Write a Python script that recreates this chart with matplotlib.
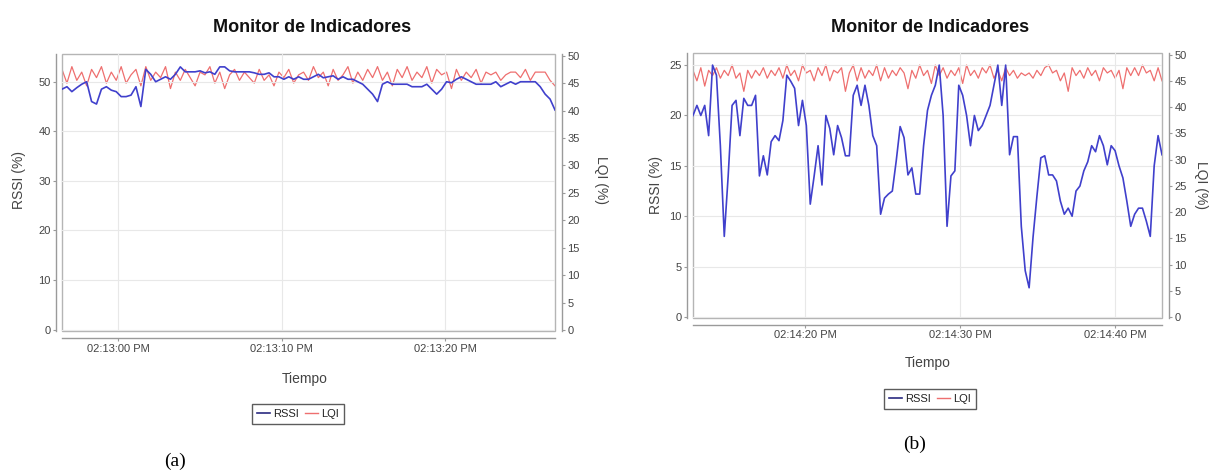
import matplotlib
matplotlib.use("Agg")
import matplotlib.pyplot as plt
import matplotlib.dates as mdates
from matplotlib.lines import Line2D
from matplotlib.patches import Rectangle
import pandas as pd

# ---------------- data ----------------
# Panel (a): 02:12:56.6 -> 02:13:26.7
a_start, a_end = "2000-01-01 14:12:56.57", "2000-01-01 14:13:26.73"
a_rssi = [48.5, 49, 48, 48.8, 49.5, 50, 46, 45.5, 48.5, 49, 48.3, 48, 47, 47, 47.3,
          49, 45, 52.5, 51.5, 50, 50.5, 51, 50.5, 51.5, 53, 52, 52, 52, 52.2, 51.8,
          52, 51.5, 53, 53, 52.2, 52, 52, 52, 52, 51.8, 51.5, 51.5, 51.8, 51, 51,
          50.5, 51, 50.5, 51, 50.5, 50.5, 51, 51.5, 50.8, 51, 51.2, 50.5, 51, 50.5,
          50.5, 50, 49.5, 48.5, 47.5, 46, 49.5, 50, 49.5, 49.5, 49.5, 49.5, 49, 49,
          49, 49.5, 48.5, 47.5, 48.5, 50, 49.8, 50.5, 51, 50.5, 50, 49.5, 49.5, 49.5,
          49.5, 50, 49, 49.5, 50, 49.5, 50, 50, 50, 50, 49, 47.5, 46.5, 44.3]
a_lqi = [47.5, 45, 48, 45.5, 47, 44.5, 47.5, 46, 48, 45, 47, 45.5, 48, 45, 46.5,
         47.5, 44.5, 48, 45.5, 47, 46, 48, 44, 47, 45.5, 47.5, 46, 44.5, 47, 46.5,
         48, 45, 47, 44, 46.5, 47.5, 45.5, 47, 46, 45, 47.5, 45.5, 46.5, 44.5, 47,
         46, 47.5, 45, 46.5, 47, 45.5, 48, 46, 47, 44.5, 47.5, 45.5, 46.5, 48, 45,
         47, 45.5, 47.5, 46, 48, 45.5, 47, 44.5, 47.5, 46, 48, 45.5, 47, 46, 48, 45,
         47.5, 46.5, 47, 44, 47.5, 45.5, 47, 46, 47.5, 45, 47, 46.5, 47, 45.5, 46.5,
         47, 47, 46, 47.5, 45.5, 47, 47, 47, 45.5, 44.5]

# Panel (b): 02:14:12.8 -> 02:14:43.0
b_start, b_end = "2000-01-01 14:14:12.77", "2000-01-01 14:14:43.03"
b_rssi = [20, 21, 20, 21, 18, 25, 24, 17, 8, 14, 21, 21.5, 18, 21.7, 21, 21, 22,
          14, 16, 14.1, 17.4, 18, 17.5, 19.5, 24, 23.4, 22.7, 19, 21.5, 19, 11.2,
          14, 17, 13.1, 20, 18.7, 16.1, 19, 17.8, 16, 16, 22, 23, 21, 23, 21, 18,
          17, 10.2, 11.8, 12.2, 12.5, 15.5, 18.9, 17.8, 14.1, 14.8, 12.2, 12.2, 17,
          20.5, 22, 23, 25, 20, 9, 14, 14.5, 23, 22, 20, 17, 20, 18.5, 19, 20, 21,
          23, 25, 21, 25, 16.1, 17.9, 17.9, 9, 4.6, 2.9, 7.9, 12, 15.8, 16, 14.1,
          14.1, 13.5, 11.5, 10.2, 10.8, 10, 12.5, 13, 14.5, 15.4, 17, 16.4, 18, 17,
          15.1, 17, 16.5, 15, 13.8, 11.5, 9, 10.2, 10.8, 10.8, 9.5, 8, 15, 18, 16.1]
b_lqi = [47, 45, 47.5, 44, 47, 46, 47.5, 45.5, 47, 46, 48, 45.5, 46.5, 43, 47,
         45.5, 47, 46, 47.5, 45.5, 47, 46, 47.5, 45.5, 48, 46, 47, 45, 48, 46.5,
         47, 45, 47.5, 46, 48, 45, 47, 46.5, 47.5, 43, 46.5, 48, 45, 47.5, 45.5,
         47, 46, 48, 45, 47.5, 45.5, 47, 46, 47.5, 46.5, 43.5, 47, 45.5, 48, 46,
         47, 44.5, 48, 46, 47.5, 45.5, 47, 46, 47.5, 44.5, 48, 46, 47, 45.5, 47.5,
         46.5, 48, 45.5, 47, 45, 47.5, 46, 47, 45.5, 46.5, 46, 46.5, 45.5, 47, 46,
         47.5, 48, 46.5, 47, 45, 46.5, 43, 47.5, 46, 47, 45.5, 47.5, 46, 47, 45,
         47.5, 46.5, 47, 45.5, 47, 43.5, 47.5, 46, 47.5, 46, 48, 46.5, 47, 45,
         47.5, 45]

a_rssi_ticks = [0, 10, 20, 30, 40, 50]
b_rssi_ticks = [0, 5, 10, 15, 20, 25]
lqi_ticks = [0, 5, 10, 15, 20, 25, 30, 35, 40, 45, 50]
a_xticks = ["2000-01-01 14:13:00", "2000-01-01 14:13:10", "2000-01-01 14:13:20"]
b_xticks = ["2000-01-01 14:14:20", "2000-01-01 14:14:30", "2000-01-01 14:14:40"]

# ---------------- style ----------------
W, H = 1211, 473
SANS = ["Liberation Sans", "DejaVu Sans"]
RSSI_C = "#4040cc"
LQI_C = "#ee6f6f"
TXT = "#444444"

fig = plt.figure(figsize=(W / 100, H / 100), dpi=100)


def frac_box(x0, y0, x1, y1):
    return [x0 / W, 1 - y1 / H, (x1 - x0) / W, (y1 - y0) / H]


def panel(box, start, end, rssi, lqi, rssi_lim, rssi_ticks, xticks):
    ax = fig.add_axes(frac_box(*box))
    t_r = pd.date_range(start, end, periods=len(rssi))
    t_l = pd.date_range(start, end, periods=len(lqi))
    ax2 = ax.twinx()
    ax.set_zorder(ax2.get_zorder() + 1)
    ax.patch.set_visible(False)
    ax2.plot(t_l, lqi, color=LQI_C, lw=0.9)
    ax.plot(t_r, rssi, color=RSSI_C, lw=1.2)
    ax.set_xlim(pd.Timestamp(start), pd.Timestamp(end))
    ax.set_ylim(*rssi_lim)
    ax2.set_ylim(-0.15, 50.3)
    ax.set_yticks(rssi_ticks)
    ax2.set_yticks(lqi_ticks)
    ax.set_xticks(pd.to_datetime(xticks))
    ax.xaxis.set_major_formatter(mdates.DateFormatter("%I:%M:%S %p"))
    ax.grid(True, color="#e8e8e8", lw=0.8)
    for a in (ax, ax2):
        for s in a.spines.values():
            s.set_visible(False)
    ax.spines["left"].set_visible(True)
    ax.spines["left"].set_position(("outward", 4))
    ax.spines["bottom"].set_visible(True)
    ax.spines["bottom"].set_position(("outward", 5))
    ax2.spines["right"].set_visible(True)
    ax2.spines["right"].set_position(("outward", 5))
    for s in (ax.spines["left"], ax.spines["bottom"], ax2.spines["right"]):
        s.set_color("#9a9a9a")
        s.set_linewidth(1.0)
    ax.add_patch(Rectangle((0, 0), 1, 1, transform=ax.transAxes, fill=False,
                           edgecolor="#b5b5b5", lw=1.0, zorder=0.5, clip_on=False))
    for a in (ax, ax2):
        a.tick_params(colors="#9a9a9a", labelcolor=TXT, length=2, width=0.8,
                      labelsize=8, pad=2)
        for lab in a.get_xticklabels() + a.get_yticklabels():
            lab.set_family(SANS)
    return ax, ax2


panel((62, 54, 555, 331), a_start, a_end, a_rssi, a_lqi, (-0.3, 55.6),
      a_rssi_ticks, a_xticks)
panel((693, 53, 1162, 318), b_start, b_end, b_rssi, b_lqi, (-0.1, 26.2),
      b_rssi_ticks, b_xticks)


def ftext(x, y, s, **kw):
    fig.text(x / W, 1 - y / H, s, ha="center", va="center", **kw)


# titles
ftext(312, 28, "Monitor de Indicadores", fontsize=13, fontweight="bold",
      family=SANS, color="#111111")
ftext(930, 28, "Monitor de Indicadores", fontsize=13, fontweight="bold",
      family=SANS, color="#111111")
# axis labels
ftext(19, 180, "RSSI (%)", fontsize=10, family=SANS, color=TXT, rotation=90)
ftext(601, 180, "LQI (%)", fontsize=10, family=SANS, color=TXT, rotation=-90)
ftext(305, 379, "Tiempo", fontsize=10, family=SANS, color=TXT)
ftext(656, 185, "RSSI (%)", fontsize=10, family=SANS, color=TXT, rotation=90)
ftext(1201, 185, "LQI (%)", fontsize=10, family=SANS, color=TXT, rotation=-90)
ftext(928, 363, "Tiempo", fontsize=10, family=SANS, color=TXT)

# legends
handles = [Line2D([], [], color="#2a2a80", lw=1.2), Line2D([], [], color=LQI_C, lw=1.0)]
for cx, cy in ((298, 414), (930, 399)):
    leg = fig.legend(handles, ["RSSI", "LQI"], loc="center",
                     bbox_to_anchor=(cx / W, 1 - cy / H), ncol=2, frameon=True,
                     fancybox=False, edgecolor="#333333",
                     handlelength=1.2, handletextpad=0.3, columnspacing=0.5,
                     borderpad=0.45, borderaxespad=0,
                     prop={"family": SANS, "size": 8})
    leg.get_frame().set_linewidth(1.0)
    for t in leg.get_texts():
        t.set_color("#222222")

# panel captions
ftext(175, 461, "(a)", fontsize=14, family=["Liberation Serif", "DejaVu Serif"],
      color="black")
ftext(915, 444, "(b)", fontsize=14, family=["Liberation Serif", "DejaVu Serif"],
      color="black")

fig.savefig("out.png", dpi=100, facecolor="white")
